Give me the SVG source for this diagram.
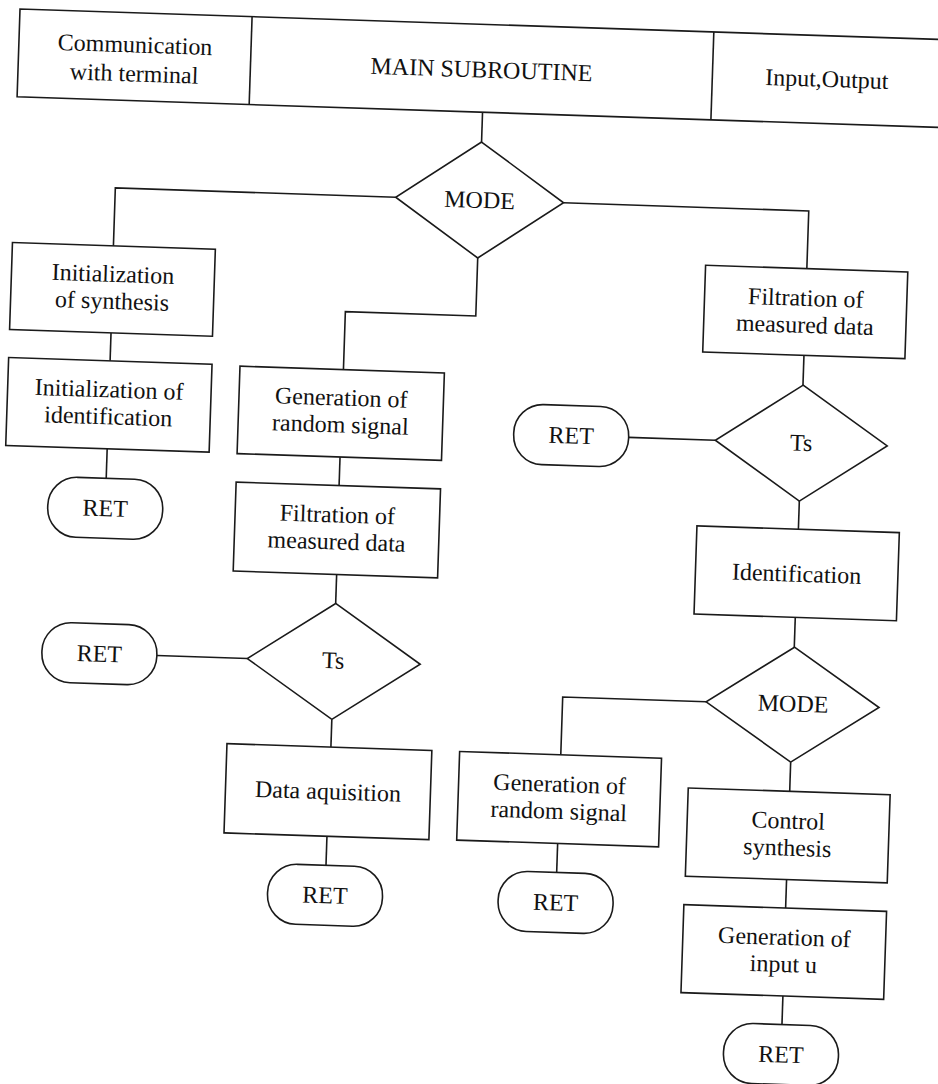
<svg xmlns="http://www.w3.org/2000/svg" width="938" height="1084" viewBox="0 0 938 1084">
<style>
.shape{fill:#fff;stroke:#1a1a1a;stroke-width:1.6}
.conn{fill:none;stroke:#1a1a1a;stroke-width:1.6}
text{font-family:"Liberation Serif","Times New Roman",serif;font-size:24px;text-anchor:middle;fill:#111}
</style>
<rect x="0" y="0" width="938" height="1084" fill="#fff"/>
<g transform="rotate(1.9)">
<g id="connectors">
<path class="conn" d="M486 96 V126"/>
<path class="conn" d="M402 184 H121.5 V242"/>
<path class="conn" d="M486 242 V300 H355.5 V358"/>
<path class="conn" d="M570 184 H815.3 V241.7"/>
<path class="conn" d="M122 329 V357"/>
<path class="conn" d="M122 445 V474.5"/>
<path class="conn" d="M355 445.5 V474"/>
<path class="conn" d="M355.5 563 V592"/>
<path class="conn" d="M178.5 650 H269"/>
<path class="conn" d="M355.5 708 V735.7"/>
<path class="conn" d="M354.5 825 V854"/>
<path class="conn" d="M815.3 328.5 V358.3"/>
<path class="conn" d="M642.8 416.3 H729.5"/>
<path class="conn" d="M815.5 474.3 V502.5"/>
<path class="conn" d="M815.3 590.7 V620.5"/>
<path class="conn" d="M729 678 H585.5 V735.8"/>
<path class="conn" d="M585.3 824.5 V853.5"/>
<path class="conn" d="M815.5 735.5 V764.7"/>
<path class="conn" d="M815.3 853 V881.5"/>
<path class="conn" d="M815.5 969.5 V998"/>
</g>
<g id="header">
<path class="shape" d="M965 8.3 H20.3 V96.2 H965"/>
<path class="conn" d="M252.5 8.3 V96.2"/>
<path class="conn" d="M714.5 8.3 V96.2"/>
<text x="136.5" y="48">Communication</text>
<text x="136.5" y="77">with terminal</text>
<text x="483.5" y="61.5">MAIN SUBROUTINE</text>
<text x="829" y="59.5">Input,Output</text>
</g>
<g id="mode1">
<polygon class="shape" points="486,126 570,184 486,242 402,184"/>
<text x="486" y="192">MODE</text>
</g>
<g id="init-synthesis">
<rect class="shape" x="20.5" y="242" width="203" height="87"/>
<text x="122" y="278">Initialization</text>
<text x="122" y="305">of synthesis</text>
</g>
<g id="init-identification">
<rect class="shape" x="20.5" y="357" width="203.5" height="88"/>
<text x="122" y="393.5">Initialization of</text>
<text x="122" y="420.5">identification</text>
</g>
<g id="ret1">
<rect class="shape" x="64.5" y="474.5" width="115" height="60" rx="29"/>
<text x="122" y="512.5">RET</text>
</g>
<g id="gen-random-1">
<rect class="shape" x="252" y="358" width="204.5" height="87.5"/>
<text x="354.3" y="394">Generation of</text>
<text x="354.3" y="421">random signal</text>
</g>
<g id="filtration-1">
<rect class="shape" x="252" y="474" width="204.5" height="89"/>
<text x="354.3" y="511">Filtration of</text>
<text x="354.3" y="538">measured data</text>
</g>
<g id="ts1">
<polygon class="shape" points="355.5,592 442,650 355.5,708 269,650"/>
<text x="355" y="657">Ts</text>
</g>
<g id="ret2">
<rect class="shape" x="63.5" y="620" width="115" height="60" rx="29"/>
<text x="121" y="658">RET</text>
</g>
<g id="data-acquisition">
<rect class="shape" x="251.5" y="735.7" width="205" height="89.3"/>
<text x="354" y="788">Data aquisition</text>
</g>
<g id="ret3">
<rect class="shape" x="297" y="854" width="115" height="60" rx="29"/>
<text x="354.5" y="892">RET</text>
</g>
<g id="filtration-2">
<rect class="shape" x="714" y="241.7" width="202.3" height="86.8"/>
<text x="815.2" y="279">Filtration of</text>
<text x="815.2" y="306">measured data</text>
</g>
<g id="ts2">
<polygon class="shape" points="815.5,358.3 901.5,416.3 815.5,474.3 729.5,416.3"/>
<text x="815.5" y="424">Ts</text>
</g>
<g id="ret4">
<rect class="shape" x="527.8" y="386.4" width="115" height="60" rx="29"/>
<text x="585.3" y="424.4">RET</text>
</g>
<g id="identification">
<rect class="shape" x="714" y="502.5" width="202.5" height="88.2"/>
<text x="815.2" y="555">Identification</text>
</g>
<g id="mode2">
<polygon class="shape" points="815.5,620.5 902,678 815.5,735.5 729,678"/>
<text x="816" y="685">MODE</text>
</g>
<g id="gen-random-2">
<rect class="shape" x="484.3" y="735.8" width="202" height="88.7"/>
<text x="585.3" y="773">Generation of</text>
<text x="585.3" y="800">random signal</text>
</g>
<g id="ret5">
<rect class="shape" x="527.7" y="853.5" width="115" height="60" rx="29"/>
<text x="585.2" y="891.5">RET</text>
</g>
<g id="control-synthesis">
<rect class="shape" x="714" y="764.7" width="202" height="88.3"/>
<text x="815" y="802">Control</text>
<text x="815" y="829">synthesis</text>
</g>
<g id="gen-input">
<rect class="shape" x="713.5" y="881.5" width="202.8" height="88"/>
<text x="815" y="918.5">Generation of</text>
<text x="815" y="945.5">input u</text>
</g>
<g id="ret6">
<rect class="shape" x="758" y="998" width="115" height="60" rx="29"/>
<text x="815.5" y="1036">RET</text>
</g>
</g>
</svg>
